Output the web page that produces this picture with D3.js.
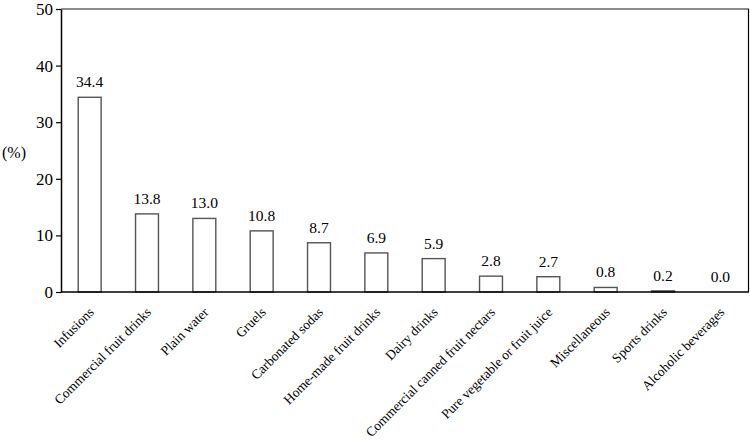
<!DOCTYPE html>
<html>
<head>
<meta charset="utf-8">
<script src="https://cdn.jsdelivr.net/npm/d3@7"></script>
<style>
  body { margin: 0; background: #fff; }
  svg { display: block; font-family: "Liberation Serif", "Times New Roman", serif; }
</style>
</head>
<body>
<div id="chart"></div>
<script>
// beverage categories and share (%)
var categories = ["Infusions", "Commercial fruit drinks", "Plain water", "Gruels", "Carbonated sodas",
  "Home-made fruit drinks", "Dairy drinks", "Commercial canned fruit nectars",
  "Pure vegetable or fruit juice", "Miscellaneous", "Sports drinks", "Alcoholic beverages"];
var values = [34.4, 13.8, 13.0, 10.8, 8.7, 6.9, 5.9, 2.8, 2.7, 0.8, 0.2, 0.0];
var yTicks = [0, 10, 20, 30, 40, 50];

var width = 750, height = 441;
var margin = {top: 9, right: 1, bottom: 149, left: 61};

var svg = d3.select("#chart").append("svg")
    .attr("width", width)
    .attr("height", height);

var x = d3.scaleBand()
    .domain(categories)
    .range([margin.left, width - margin.right])
    .paddingInner(0.6)
    .paddingOuter(0.3);

var y = d3.scaleLinear()
    .domain([0, 50])
    .range([height - margin.bottom, margin.top]);

// frame top + right
svg.append("line")
    .attr("x1", margin.left).attr("x2", width - margin.right)
    .attr("y1", y(50)).attr("y2", y(50))
    .attr("stroke", "#666").attr("stroke-width", 1.5);
svg.append("line")
    .attr("x1", width - margin.right - 0.5).attr("x2", width - margin.right - 0.5)
    .attr("y1", y(50)).attr("y2", y(0))
    .attr("stroke", "#000").attr("stroke-width", 1.2);

// bars
svg.selectAll("rect.bar")
    .data(values)
  .enter().append("rect")
    .attr("class", "bar")
    .attr("x", function(d, i) { return x(categories[i]); })
    .attr("width", x.bandwidth())
    .attr("y", function(d) { return y(d); })
    .attr("height", function(d) { return y(0) - y(d); })
    .attr("fill", "#fff")
    .attr("stroke", "#555")
    .attr("stroke-width", 1.4);

// value labels
svg.selectAll("text.val")
    .data(values)
  .enter().append("text")
    .attr("class", "val")
    .attr("x", function(d, i) { return x(categories[i]) + x.bandwidth() / 2; })
    .attr("y", function(d) { return y(d) - 10; })
    .attr("text-anchor", "middle")
    .style("font-size", "15.5px")
    .text(function(d) { return d.toFixed(1); });

// y axis
var yAxis = svg.append("g")
    .attr("transform", "translate(" + margin.left + ",0)")
    .call(d3.axisLeft(y).tickValues(yTicks).tickSize(5).tickSizeOuter(0));
yAxis.select(".domain").attr("stroke", "#000").attr("stroke-width", 1.5);
yAxis.selectAll(".tick line").attr("stroke", "#000").attr("stroke-width", 1.2);
yAxis.selectAll(".tick text")
    .attr("x", -8)
    .style("font-family", "'Liberation Serif', 'Times New Roman', serif")
    .style("font-size", "17px")
    .attr("fill", "#000");

// x axis line
svg.append("line")
    .attr("x1", margin.left).attr("x2", width - margin.right)
    .attr("y1", y(0)).attr("y2", y(0))
    .attr("stroke", "#000").attr("stroke-width", 1.5);

// category labels
svg.selectAll("text.cat")
    .data(categories)
  .enter().append("text")
    .attr("class", "cat")
    .attr("transform", function(d) {
      return "translate(" + (x(d) + x.bandwidth() / 2 + 5) + "," + (y(0) + 21) + ") rotate(-45)";
    })
    .attr("text-anchor", "end")
    .style("font-size", "13.5px")
    .text(function(d) { return d; });

// y unit
svg.append("text")
    .attr("x", 2)
    .attr("y", 158)
    .style("font-size", "16px")
    .text("(%)");
</script>
</body>
</html>
